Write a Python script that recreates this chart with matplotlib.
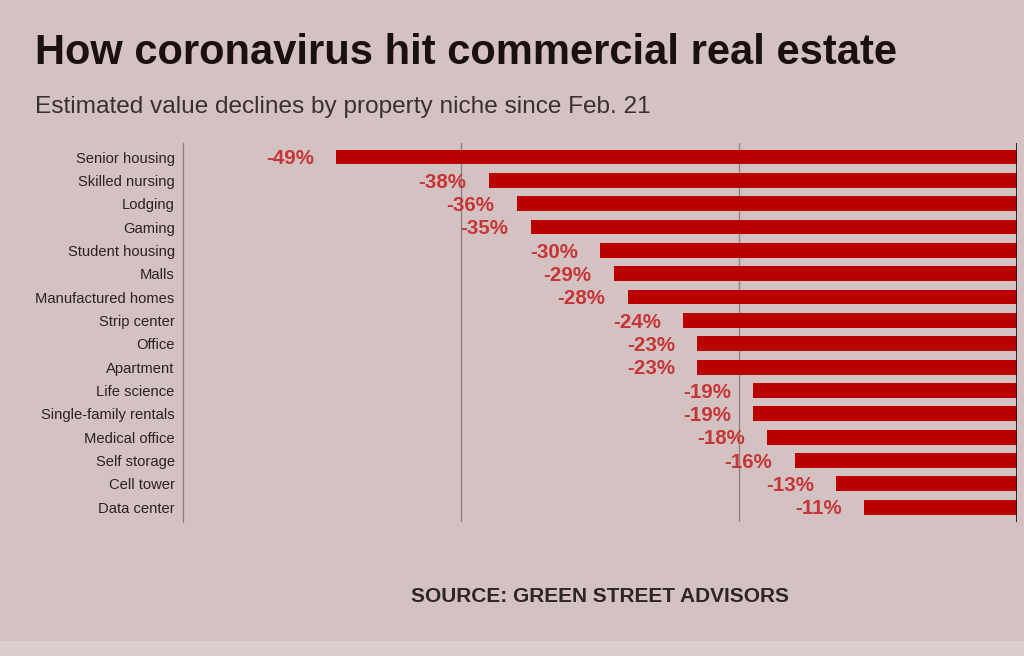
import matplotlib
matplotlib.use("Agg")
import matplotlib.pyplot as plt
from matplotlib.patches import Rectangle

categories = ["Senior housing", "Skilled nursing", "Lodging", "Gaming", "Student housing",
              "Malls", "Manufactured homes", "Strip center", "Office", "Apartment",
              "Life science", "Single-family rentals", "Medical office", "Self storage",
              "Cell tower", "Data center"]
values = [-49, -38, -36, -35, -30, -29, -28, -24, -23, -23, -19, -19, -18, -16, -13, -11]
gridlines = [-60, -40, -20, 0]

BG = "#d4c1c1"
BAR = "#b80000"
LBL = "#c63636"
TXT = "#2b2222"

plt.rcParams['font.family'] = ['Liberation Sans', 'DejaVu Sans']

fig = plt.figure(figsize=(10.24, 6.56), dpi=100, facecolor=BG)
fig.patches.append(Rectangle((0, 0), 1, 15/656, transform=fig.transFigure,
                             facecolor="#dccccb", edgecolor="none", zorder=0))

ax = fig.add_axes([183/1024, 1 - 522/656, (1017 - 183)/1024, (522 - 143)/656])
ax.set_facecolor(BG)

y = list(range(len(categories)))
ax.barh(y, values, height=0.64, color=BAR, zorder=3)
for yi, v in zip(y, values):
    ax.annotate(f"{v}%", xy=(v, yi), xytext=(-16, -1.2), textcoords="offset points",
                ha="right", va="center", color=LBL, fontsize=14.8,
                fontweight="bold", zorder=4)

ax.set_xlim(-60, 0)
ax.set_ylim(15.64, -0.6)
for g in gridlines[1:-1]:
    ax.axvline(g, color="#8a8080", lw=0.9, zorder=1)
ax.axvline(0, color="#1a1a1a", lw=1.3, zorder=5)

for s in ["top", "right", "bottom"]:
    ax.spines[s].set_visible(False)
ax.spines["left"].set_color("#8a8080")
ax.spines["left"].set_linewidth(0.9)

ax.set_xticks([])
ax.set_yticks(y)
ax.set_yticklabels(categories, fontsize=10.6, color=TXT)
ax.tick_params(axis="y", length=0, pad=6)

fig.text(35/1024, 1 - 53/656, "How coronavirus hit commercial real estate",
         fontsize=30, fontweight="bold", color="#1a1010", ha="left", va="center")
fig.text(35/1024, 1 - 107/656, "Estimated value declines by property niche since Feb. 21",
         fontsize=17.6, color="#3a3030", ha="left", va="center")
fig.text(600/1024, 1 - 597/656, "SOURCE: GREEN STREET ADVISORS",
         fontsize=15, fontweight="bold", color="#2e2626", ha="center", va="center")

fig.savefig("out.png", dpi=100, facecolor=BG)
